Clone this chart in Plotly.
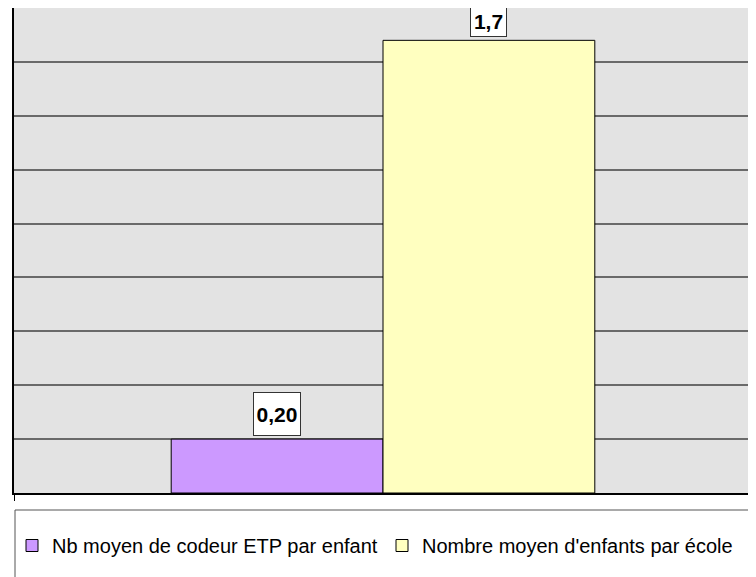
import plotly.graph_objects as go

# ---- data ----
series_names = ["Nb moyen de codeur ETP par enfant", "Nombre moyen d'enfants par école"]
series_values = [0.20, 1.68]
label_decimals = [2, 1]
series_colors = ["#CC99FF", "#FFFFC0"]
category = [1]

W, H = 756, 577
# page body adds an 8px offset; margins compensate so the plot sits where the reference has it
ML, MR, MT, MB = 6, 12, 0, 92
PW, PH = W - ML - MR, H - MT - MB
OFF = 8
Y_MAX = 1.8

bar_w = 0.287
offsets = [-bar_w, 0.0]

fig = go.Figure()
for name, val, col, off in zip(series_names, series_values, series_colors, offsets):
    fig.add_trace(go.Bar(
        x=category, y=[val], name=name, width=bar_w, offset=off,
        marker=dict(color=col, line=dict(color="#000000", width=1)),
        hoverinfo="skip",
    ))

for val, dec, off in zip(series_values, label_decimals, offsets):
    txt = f"{val:.{dec}f}".replace(".", ",")
    box_w = sum(6 if ch == "," else 11 for ch in txt) + 5
    space = (Y_MAX - val) / Y_MAX * PH + MT - 4
    box_h = int(min(40, space))
    fig.add_annotation(
        x=category[0] + off + bar_w / 2, y=val, xref="x", yref="y",
        text=txt, showarrow=False, yanchor="bottom", yshift=3,
        font=dict(family="Liberation Sans, Arial", size=21, color="#000000", weight="bold"),
        bgcolor="#FFFFFF", bordercolor="#333333", borderwidth=1, borderpad=1,
        width=box_w, height=box_h,
    )

def px_x(p):
    return (p - OFF - ML) / PW

def px_y(p):
    return (OFF + MT + PH - p) / PH

# legend frame
fig.add_shape(type="rect", xref="paper", yref="paper",
              x0=px_x(15), x1=px_x(752), y0=px_y(578), y1=px_y(510),
              line=dict(color="#555555", width=1), fillcolor="rgba(0,0,0,0)")
# right border of plot area
fig.add_shape(type="line", xref="paper", yref="paper", x0=1, x1=1, y0=0, y1=1,
              line=dict(color="#888888", width=1.5))

fig.update_layout(
    width=W, height=H,
    margin=dict(l=ML, r=MR, t=MT, b=MB),
    paper_bgcolor="#FFFFFF", plot_bgcolor="#E3E3E3",
    barmode="overlay",
    showlegend=True,
    legend=dict(orientation="h", x=px_x(12), xanchor="left", y=px_y(545.5), yanchor="middle",
                font=dict(family="Liberation Sans, Arial", size=20, color="#000000"),
                bgcolor="rgba(0,0,0,0)", borderwidth=0, entrywidth=325, traceorder="normal"),
    font=dict(family="Liberation Sans, Arial"),
)
fig.update_xaxes(range=[0.5, 1.5], tickvals=[0.5, 1.5], ticks="outside", ticklen=6, tickcolor="#000000",
                 showticklabels=False, showgrid=False, showline=True, linecolor="#000000", linewidth=2,
                 zeroline=False, fixedrange=True)
fig.update_yaxes(range=[0, Y_MAX], dtick=0.2, showticklabels=False, showgrid=True,
                 gridcolor="#6A6A6A", gridwidth=1.5, showline=True, linecolor="#000000", linewidth=2,
                 zeroline=False, ticks="", fixedrange=True)

fig.write_html("out.html")
